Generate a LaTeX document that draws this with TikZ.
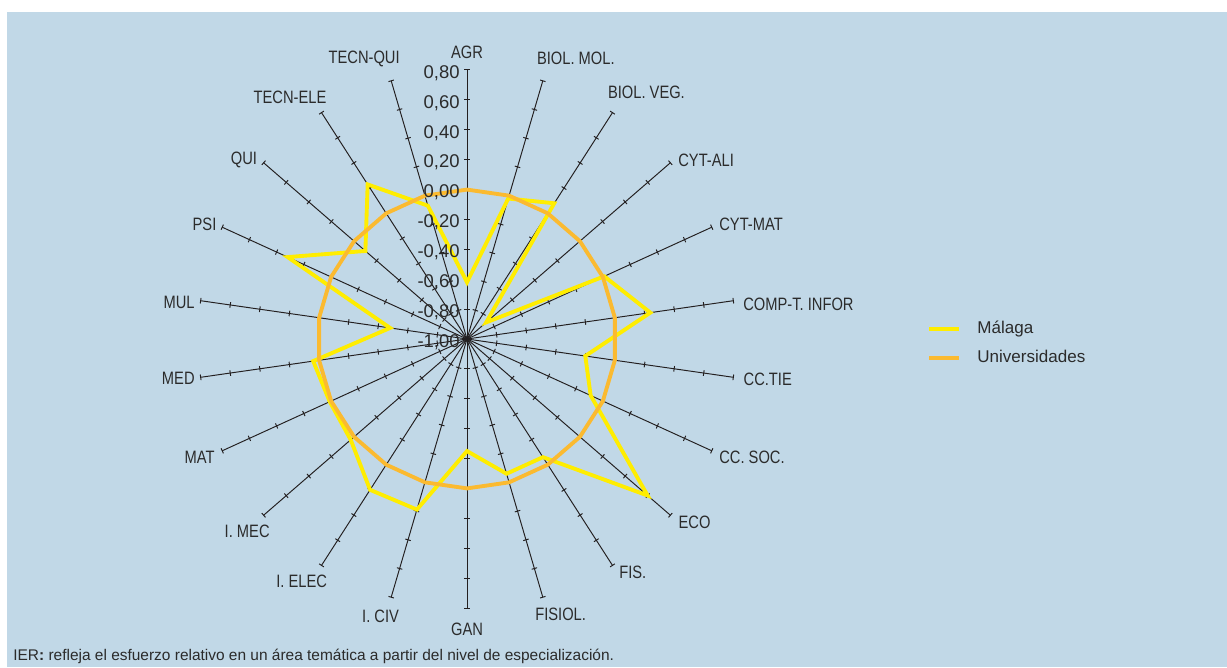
\documentclass[tikz,border=0pt]{standalone}
\usepackage{fontspec}
\setmainfont{Liberation Sans}
\newfontfamily\capsfont{Liberation Sans}[FakeStretch=0.82]
\usepackage{tikz}
\usetikzlibrary{positioning}
\definecolor{iercielo}{HTML}{C1D8E7}
\definecolor{iermalaga}{HTML}{FFED00}
\definecolor{ieruni}{HTML}{FBBA30}
\definecolor{iertexto}{HTML}{2B2B2B}
\definecolor{iereje}{HTML}{231F20}
\tikzset{
  eje/.style={draw=iereje, line width=0.55pt},
  etq/.style={font=\capsfont\fontsize{10.2pt}{12pt}\selectfont, text=iertexto, inner sep=0pt},
  valor/.style={font=\fontsize{10.5pt}{12pt}\selectfont, text=iertexto, inner sep=0pt, anchor=east},
  malaga/.style={draw=iermalaga, line width=2.2pt},
  univ/.style={draw=ieruni, line width=2.2pt},
  ley/.style={font=\fontsize{9.7pt}{12pt}\selectfont, text=iertexto, inner sep=0pt, anchor=west},
  nota/.style={font=\fontsize{8.8pt}{10pt}\selectfont, text=iertexto, inner sep=0pt, anchor=base west}
}

\begin{document}
\begin{tikzpicture}[x=0.02cm, y=0.02cm]
  \useasboundingbox (-467,-328) rectangle (760,339);
  \fill[iercielo] (-460,-328) rectangle (760,327);

  % ejes radiales con marcas cada 0,20
  \coordinate (c) at (0,0);
  \foreach \i in {0,...,21} {
    \coordinate (e\i) at ({90-\i*360/22}:269);
    \draw[eje] (c) -- (e\i);
    \foreach \k in {1,...,9}
      \draw[eje, rotate={90-\i*360/22}] (\k*29.9,-2.8) -- (\k*29.9,2.8);
  }

  % Malaga
  \foreach \v [count=\i from 0] in {-0.62,-0.02,0.08,-0.83,0.01,0.24,-0.20,-0.09,0.60,-0.06,-0.06,
                                    -0.25,0.19,0.20,0.03,0.01,0.04,-0.48,0.32,-0.10,0.23,-0.07}
    \coordinate (m\i) at ({90-\i*360/22}:{(\v+1)*149.4});
  \draw[malaga] (m0) \foreach \i in {1,...,21} {-- (m\i)} -- cycle;

  % Universidades
  \foreach \i in {0,...,21}
    \coordinate (u\i) at ({90-\i*360/22}:149.4);
  \draw[univ] (u0) \foreach \i in {1,...,21} {-- (u\i)} -- cycle;

  % escala
  \foreach \v/\t [count=\k] in {0.8/{0,80},0.6/{0,60},0.4/{0,40},0.2/{0,20},0/{0,00},-0.2/{-0,20},
                                -0.4/{-0,40},-0.6/{-0,60},-0.8/{-0,80},-1/{-1,00}}
    \node[valor] (val\k) at (-7,{(\v+1)*149.4-3}) {\t};

  % areas
  \node[etq] (agr) at (0,287) {AGR};
  \node[etq] (gan) at (0,-290) {GAN};
  \foreach \t/\x/\y [count=\k] in {BIOL. MOL./69.7/281, BIOL. VEG./140.7/246.5, CYT-ALI/211/178.5,
                                   CYT-MAT/252/114.5, COMP-T. INFOR/276/35, CC.TIE/276.3/-40,
                                   CC. SOC./252/-118.5, ECO/211.3/-183.5, FIS./152/-233.5, FISIOL./68/-275}
    \node[etq, anchor=west] (der\k) at (\x,\y) {\t};
  \foreach \t/\x/\y [count=\k] in {TECN-QUI/-67/280, TECN-ELE/-140.3/241.5, QUI/-209.7/179,
                                   PSI/-250.3/115, MUL/-272/37, MED/-272/-39.3, MAT/-252/-118.5,
                                   I. MEC/-197/-192, I. ELEC/-139.7/-242, I. CIV/-67.7/-277}
    \node[etq, anchor=east] (izq\k) at (\x,\y) {\t};

  % leyenda
  \node[ley] (legmal) at (510,10.5) {Málaga};
  \node[ley] (leguni) at (510,-17.7) {Universidades};
  \draw[malaga, line width=2.3pt] (462.3,10) -- (492.3,10);
  \draw[univ, line width=2.3pt] (462.3,-18.7) -- (492.3,-18.7);

  \node[nota] (nota) at (-454,-321) {IER\textbf{:} refleja el esfuerzo relativo en un área temática a partir del nivel de especialización.};
\end{tikzpicture}
\end{document}
